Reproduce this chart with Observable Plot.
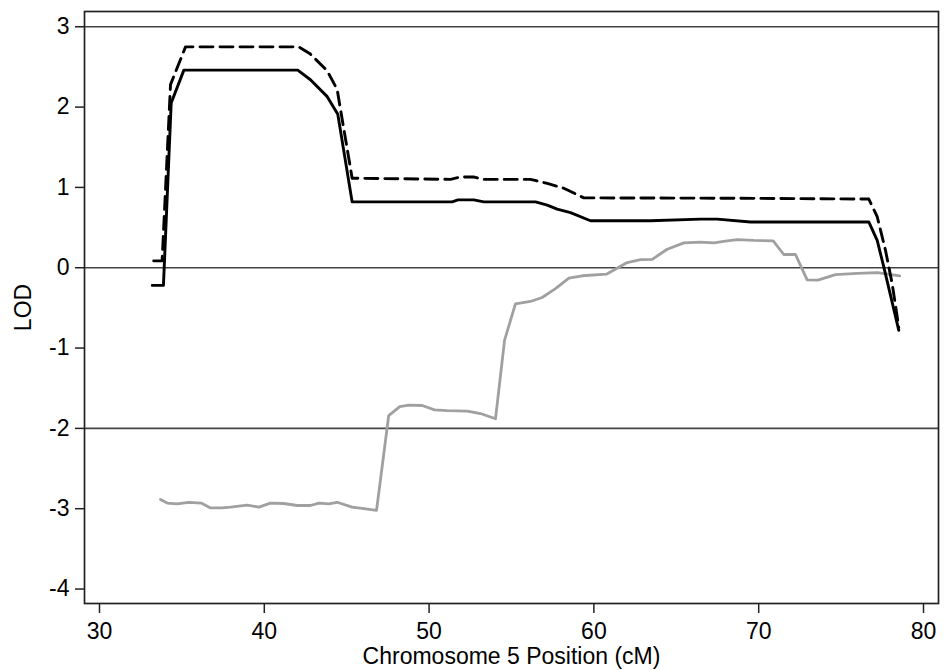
<!DOCTYPE html>
<html>
<head>
<meta charset="utf-8">
<script src="https://cdn.jsdelivr.net/npm/d3@7"></script>
<script src="https://cdn.jsdelivr.net/npm/@observablehq/plot@0.6"></script>
<style>
  html, body { margin: 0; padding: 0; background: #fff; }
  #chart svg { display: block; }
  #chart svg text { font-family: 'Liberation Sans', Arial, Helvetica, sans-serif; font-size: 23px; fill: #000; }
</style>
</head>
<body>
<div id="chart"></div>
<script>
// Solid black curve
const solidPos = [33.20, 33.88, 34.35, 35.12, 42.03, 42.80, 43.82, 44.46, 45.33, 51.40, 51.75, 52.71, 53.32, 56.46, 57.17, 57.77, 58.58, 59.79, 63.43, 66.47, 67.48, 69.50, 76.68, 77.19, 77.59, 78.50];
const solidLod = [-0.22, -0.22, 2.05, 2.46, 2.46, 2.34, 2.13, 1.91, 0.82, 0.82, 0.845, 0.845, 0.82, 0.82, 0.78, 0.73, 0.685, 0.585, 0.585, 0.605, 0.605, 0.57, 0.57, 0.34, 0.01, -0.78];

// Dashed black curve
const dashPos = [33.29, 33.80, 34.31, 35.22, 42.09, 42.80, 43.82, 44.42, 45.33, 51.30, 51.90, 52.70, 53.30, 56.15, 57.17, 58.17, 59.39, 68.90, 76.68, 77.19, 77.69, 78.10, 78.50];
const dashLod = [0.085, 0.085, 2.28, 2.75, 2.75, 2.66, 2.45, 2.22, 1.115, 1.10, 1.13, 1.13, 1.10, 1.10, 1.05, 0.99, 0.87, 0.865, 0.855, 0.635, 0.22, -0.20, -0.74];

// Grey curve
const greyPos = [33.70, 34.11, 34.71, 35.42, 36.17, 36.74, 37.45, 37.95, 38.96, 39.67, 40.38, 41.18, 42.00, 42.80, 43.31, 43.91, 44.42, 45.33, 46.04, 46.81, 47.55, 48.22, 48.77, 49.58, 50.33, 51.10, 52.31, 53.12, 54.03, 54.58, 55.24, 56.15, 56.86, 57.67, 58.48, 59.29, 60.76, 62.02, 62.83, 63.54, 64.45, 65.46, 66.47, 67.28, 68.09, 68.70, 69.70, 70.88, 71.52, 72.23, 72.94, 73.59, 74.66, 75.98, 77.19, 78.56];
const greyLod = [-2.885, -2.93, -2.94, -2.92, -2.93, -2.99, -2.99, -2.98, -2.955, -2.98, -2.93, -2.935, -2.96, -2.96, -2.93, -2.94, -2.92, -2.98, -3.00, -3.02, -1.84, -1.73, -1.71, -1.715, -1.77, -1.78, -1.785, -1.815, -1.88, -0.90, -0.45, -0.42, -0.37, -0.26, -0.13, -0.10, -0.08, 0.065, 0.10, 0.105, 0.23, 0.31, 0.32, 0.31, 0.335, 0.35, 0.34, 0.335, 0.165, 0.165, -0.15, -0.155, -0.085, -0.07, -0.06, -0.10];

const thresholds = [3, 0, -2];
const xTicks = [30, 40, 50, 60, 70, 80];
const yTicks = [-4, -3, -2, -1, 0, 1, 2, 3];

const toRows = (xs, ys) => xs.map((x, i) => ({pos: x, lod: ys[i]}));
const solid = toRows(solidPos, solidLod);
const dashed = toRows(dashPos, dashLod);
const grey = toRows(greyPos, greyLod);
const hyphenFmt = d => (d < 0 ? "-" + Math.abs(d) : String(d));

const chart = Plot.plot({
  width: 944,
  height: 670,
  marginLeft: 84,
  marginRight: 6,
  marginTop: 11,
  marginBottom: 67,
  style: {fontFamily: "'Liberation Sans', Arial, Helvetica, sans-serif", fontSize: "23px", color: "#000", background: "#fff"},
  x: {domain: [29.09, 80.91]},
  y: {domain: [-4.18, 3.19]},
  marks: [
    Plot.ruleY(thresholds, {stroke: "#444", strokeWidth: 1.6}),
    Plot.line(grey, {x: "pos", y: "lod", stroke: "#a0a0a0", strokeWidth: 2.8, strokeLinejoin: "round"}),
    Plot.line(dashed, {x: "pos", y: "lod", stroke: "#000", strokeWidth: 2.9, strokeDasharray: "13,7"}),
    Plot.line(solid, {x: "pos", y: "lod", stroke: "#000", strokeWidth: 2.9}),
    Plot.frame({stroke: "#222", strokeWidth: 1.7}),
    Plot.axisX({ticks: xTicks, tickFormat: hyphenFmt, tickSize: 10, tickPadding: 9, stroke: "#222", strokeWidth: 1.5, label: "Chromosome 5 Position (cM)", labelAnchor: "center", labelArrow: "none", labelOffset: 60, fontSize: 23}),
    Plot.axisY({ticks: yTicks, tickFormat: hyphenFmt, tickSize: 9, tickPadding: 6, stroke: "#222", strokeWidth: 1.5, label: "LOD", labelAnchor: "center", labelArrow: "none", labelOffset: 70, fontSize: 23})
  ]
});
document.getElementById("chart").appendChild(chart);
</script>
</body>
</html>
